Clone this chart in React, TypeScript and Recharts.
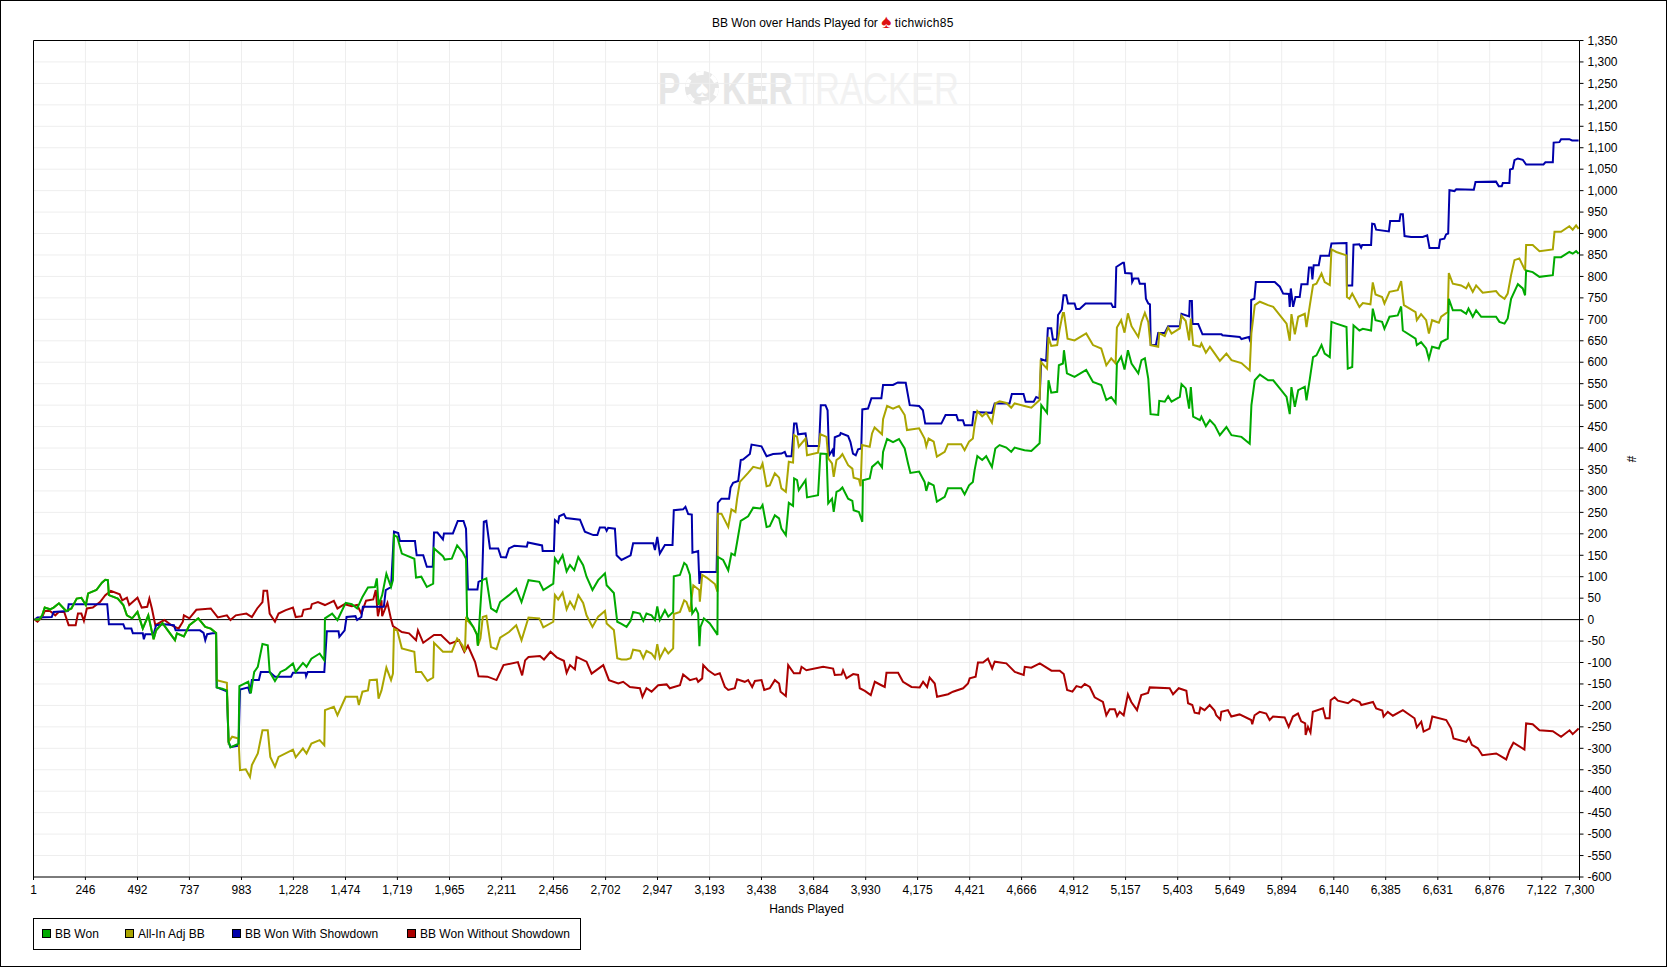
import React from 'react';
import { LineChart, Line, XAxis, YAxis, CartesianGrid, ReferenceLine, Legend } from 'recharts';

type P = [number, number];

const title = 'BB Won over Hands Played for';
const player = 'tichwich85';
const xTicks = [1,246,492,737,983,1228,1474,1719,1965,2211,2456,2702,2947,3193,3438,3684,3930,4175,4421,4666,4912,5157,5403,5649,5894,6140,6385,6631,6876,7122,7300];
const yTicks = [-600,-550,-500,-450,-400,-350,-300,-250,-200,-150,-100,-50,0,50,100,150,200,250,300,350,400,450,500,550,600,650,700,750,800,850,900,950,1000,1050,1100,1150,1200,1250,1300,1350];

const earlyShared: P[] = [[7,0],[28,0],[42,10],[54,28],[79,24],[96,28],[121,38],[155,20],[180,26],[205,49],[227,51],[248,34],[259,61],[298,69],[324,86],[340,93],[352,92],[357,57],[399,49],[425,34],[442,10],[467,3],[492,18],[517,-21],[543,10],[568,-46],[580,-25],[610,-8],[635,-25],[669,-48],[678,-32],[711,-39],[737,-13],[779,3],[812,-17],[838,-21],[863,-31]];

const bbWon: P[] = [...earlyShared,
[866,-158],[892,-161],[914,-165],[922,-285],[931,-298],[969,-289],[973,-155],[1015,-145],[1027,-172],[1043,-122],[1060,-110],[1082,-57],[1107,-60],[1116,-122],[1141,-143],[1167,-122],[1192,-116],[1226,-102],[1239,-122],[1273,-101],[1290,-110],[1313,-91],[1352,-79],[1374,-95],[1377,3],[1411,14],[1436,-1],[1475,39],[1504,36],[1529,26],[1554,53],[1580,75],[1613,76],[1622,96],[1630,34],[1647,57],[1667,107],[1689,76],[1698,92],[1703,197],[1718,193],[1740,154],[1799,142],[1807,98],[1832,100],[1858,76],[1888,84],[1892,166],[1934,148],[1942,140],[1976,142],[2001,173],[2026,158],[2043,142],[2048,6],[2077,-17],[2094,-34],[2099,-61],[2119,92],[2139,96],[2161,26],[2187,18],[2204,41],[2246,57],[2280,72],[2305,41],[2338,92],[2389,88],
[2408,69],[2455,84],[2463,143],[2478,132],[2499,150],[2518,112],[2534,127],[2554,115],[2573,146],[2596,127],[2612,100],[2640,69],[2667,92],[2699,108],[2707,80],[2741,62],[2757,-5],[2777,-10],[2801,-17],[2820,-3],[2832,18],[2864,14],[2880,-3],[2895,14],[2919,10],[2935,-1],[2946,31],[2958,-1],[2982,22],[2998,7],[3021,18],[3024,101],[3053,104],[3073,132],[3084,127],[3100,104],[3111,14],[3128,26],[3139,14],[3145,-62],[3150,-17],[3166,3],[3194,-9],[3226,-32],[3230,-36],[3232,146],[3257,139],[3281,115],[3296,154],[3312,150],[3323,181],[3340,230],[3375,241],[3399,261],[3433,259],[3443,267],[3462,216],[3477,218],[3501,243],[3521,236],[3532,212],[3553,197],[3567,272],[3587,265],[3592,329],[3606,325],[3614,302],[3646,325],[3653,285],[3705,290],[3716,387],[3745,386],[3753,271],[3771,282],[3779,251],[3792,298],[3808,302],
[3820,308],[3847,282],[3867,277],[3873,255],[3898,251],[3914,228],[3917,325],[3949,329],[3960,356],[3988,368],[4007,355],[4012,391],[4031,421],[4059,414],[4087,421],[4114,399],[4130,364],[4141,342],[4182,345],[4208,321],[4216,300],[4227,319],[4251,313],[4266,275],[4303,286],[4318,306],[4381,306],[4397,292],[4418,313],[4436,321],[4444,348],[4457,381],[4480,372],[4499,381],[4526,356],[4542,399],[4562,407],[4594,401],[4617,391],[4633,401],[4680,395],[4712,393],[4751,411],[4759,500],[4786,482],[4793,558],[4806,529],[4834,531],[4842,593],[4861,597],[4866,628],[4880,574],[4916,566],[4971,582],[5003,554],[5042,547],[5066,512],[5089,519],[5110,505],[5116,597],[5136,613],[5152,583],[5168,628],
[5185,597],[5217,574],[5232,605],[5248,609],[5264,562],[5275,479],[5311,477],[5316,510],[5342,508],[5358,521],[5374,508],[5413,519],[5421,549],[5441,539],[5457,492],[5465,542],[5476,473],[5508,465],[5515,473],[5536,451],[5555,465],[5578,453],[5602,430],[5633,449],[5657,430],[5704,426],[5743,410],[5751,500],[5767,558],[5791,571],[5830,558],[5854,558],[5885,539],[5917,519],[5932,479],[5940,542],[5956,496],[5972,535],[6003,543],[6011,511],[6027,562],[6042,612],[6058,616],[6082,640],[6097,620],[6121,612],[6129,694],[6152,690],[6200,682],
[6206,585],[6227,589],[6233,686],[6261,674],[6277,678],[6316,674],[6324,725],[6337,698],[6368,694],[6379,678],[6403,706],[6442,709],[6458,730],[6466,674],[6526,655],[6532,640],[6552,647],[6576,632],[6589,608],[6604,636],[6636,632],[6647,647],[6678,655],[6683,748],[6702,721],[6741,721],[6765,713],[6776,725],[6796,706],[6812,721],[6836,706],[6906,706],[6922,694],[6946,690],[6961,702],[6977,748],[7009,782],[7032,772],[7043,756],[7048,814],[7079,810],[7111,799],[7174,803],[7182,845],[7213,845],[7252,857],[7268,853],[7284,859],[7296,853]];

const allInAdj: P[] = [...earlyShared,
[866,-141],[914,-147],[922,-285],[939,-273],[969,-277],[976,-351],[1003,-349],[1023,-367],[1032,-339],[1060,-312],[1082,-258],[1107,-258],[1119,-320],[1141,-343],[1158,-320],[1226,-303],[1239,-321],[1273,-300],[1290,-312],[1313,-289],[1352,-281],[1374,-293],[1377,-211],[1419,-203],[1436,-223],[1475,-180],[1504,-180],[1529,-180],[1537,-199],[1554,-168],[1580,-165],[1588,-141],[1622,-140],[1630,-184],[1644,-165],[1667,-112],[1689,-141],[1698,-126],[1703,-22],[1718,-25],[1740,-67],[1799,-75],[1807,-122],[1832,-122],[1861,-143],[1888,-135],[1892,-54],[1934,-75],[1976,-75],[2001,-44],[2026,-60],[2038,-75],[2043,2],[2077,-17],[2094,-34],[2099,-61],[2111,-44],[2122,6],[2139,9],[2161,-64],[2187,-69],[2204,-42],[2246,-29],[2280,-13],[2305,-48],[2338,5],[2389,3],
[2408,-18],[2455,-5],[2463,57],[2478,47],[2499,63],[2518,24],[2534,42],[2554,26],[2573,57],[2596,39],[2612,10],[2640,-17],[2667,7],[2699,20],[2707,-9],[2741,-24],[2757,-90],[2777,-93],[2801,-93],[2820,-90],[2832,-70],[2864,-73],[2880,-90],[2895,-73],[2919,-79],[2935,-90],[2946,-57],[2958,-90],[2982,-67],[2998,-79],[3021,-67],[3024,13],[3053,18],[3073,45],[3084,41],[3100,18],[3116,80],[3144,69],[3147,42],[3158,104],[3179,98],[3218,83],[3230,65],[3232,247],[3249,247],[3281,216],[3296,257],[3315,251],[3323,282],[3336,321],[3375,342],[3399,356],[3433,352],[3443,364],[3462,311],[3477,313],[3501,341],[3521,331],[3532,306],[3553,298],[3567,368],[3587,366],[3592,430],[3606,426],[3614,403],[3646,422],[3653,383],[3705,389],[3716,432],[3745,426],[3753,376],[3771,364],[3779,333],[3792,372],[3808,378],
[3820,386],[3847,360],[3867,352],[3873,331],[3898,327],[3906,311],[3913,407],[3949,403],[3960,434],[3972,448],[4007,432],[4012,467],[4031,498],[4059,492],[4087,498],[4114,477],[4125,442],[4182,446],[4208,422],[4216,404],[4227,422],[4251,415],[4266,380],[4303,391],[4318,409],[4381,409],[4397,395],[4418,415],[4436,422],[4444,453],[4457,486],[4480,474],[4499,482],[4526,459],[4542,504],[4562,509],[4594,505],[4617,494],[4633,504],[4680,498],[4712,494],[4751,512],[4756,601],[4786,585],[4793,659],[4806,638],[4834,640],[4845,675],[4861,715],[4866,715],[4883,655],[4916,651],[4971,667],[5003,640],[5042,632],[5066,593],[5089,609],[5110,597],[5116,681],[5136,698],[5152,669],[5168,714],
[5185,684],[5217,659],[5232,694],[5248,715],[5264,694],[5275,640],[5311,636],[5316,668],[5342,661],[5358,681],[5374,667],[5413,679],[5421,708],[5441,696],[5457,651],[5465,702],[5476,640],[5508,636],[5515,644],[5536,622],[5555,636],[5578,620],[5602,603],[5633,620],[5657,605],[5704,598],[5743,581],[5751,668],[5767,733],[5791,741],[5830,733],[5854,729],[5885,710],[5917,690],[5932,650],[5940,712],[5956,665],[5972,706],[6003,713],[6011,682],[6027,733],[6042,780],[6058,783],[6082,807],[6097,787],[6121,780],[6129,863],[6152,857],[6200,849],
[6202,752],[6214,748],[6227,760],[6261,729],[6277,738],[6313,735],[6324,786],[6337,758],[6368,752],[6379,737],[6403,764],[6442,768],[6458,789],[6471,733],[6526,717],[6532,698],[6552,712],[6576,698],[6589,667],[6604,698],[6636,692],[6647,706],[6678,717],[6683,808],[6702,783],[6741,779],[6765,772],[6776,783],[6796,764],[6812,779],[6843,762],[6906,766],[6922,756],[6946,748],[6961,760],[6977,803],[6993,838],[7016,842],[7043,814],[7048,873],[7079,873],[7111,859],[7174,863],[7182,904],[7213,904],[7252,917],[7268,909],[7284,919],[7296,911]];

const withShowdown: P[] = [[7,0],[20,5],[87,6],[96,18],[163,20],[167,36],[349,36],[357,-11],[425,-11],[433,-21],[463,-21],[470,-32],[517,-32],[522,-46],[529,-34],[568,-34],[580,-13],[619,-11],[664,-13],[672,-25],[787,-25],[804,-31],[812,-48],[821,-34],[846,-32],[863,-32],[866,-158],[914,-167],[922,-285],[931,-297],[969,-294],[976,-163],[1015,-158],[1023,-172],[1032,-141],[1065,-141],[1074,-122],[1116,-122],[1141,-133],[1217,-133],[1226,-124],[1285,-124],[1288,-132],[1296,-122],[1374,-122],[1386,-27],[1441,-27],[1445,-40],[1470,-25],[1479,6],[1521,8],[1529,-1],[1549,6],[1556,30],[1655,30],[1664,69],[1689,76],[1703,205],[1723,202],[1731,183],[1802,183],[1810,150],[1841,150],[1858,123],[1886,123],[1892,203],[1908,203],[1934,187],[1939,201],[1981,201],[2004,230],[2031,230],[2043,212],[2052,70],[2097,70],[2102,88],[2119,92],[2127,228],[2139,230],[2156,166],[2195,166],[2208,146],[2232,145],[2246,166],[2271,172],[2330,170],[2335,180],[2402,173],
[2405,160],[2458,160],[2463,232],[2478,226],[2483,241],[2505,246],[2515,237],[2581,233],[2604,205],[2644,197],[2663,197],[2675,215],[2699,215],[2707,207],[2714,214],[2746,212],[2754,150],[2777,139],[2820,150],[2832,178],[2927,178],[2935,162],[2946,193],[2958,154],[2982,174],[3018,174],[3024,255],[3068,257],[3079,263],[3092,246],[3109,245],[3112,156],[3139,160],[3145,83],[3150,111],[3226,111],[3232,272],[3249,282],[3285,282],[3292,308],[3304,319],[3328,323],[3340,372],[3351,373],[3383,386],[3391,408],[3438,404],[3462,381],[3493,386],[3532,387],[3548,391],[3556,381],[3580,381],[3588,430],[3592,457],[3603,457],[3611,432],[3646,434],[3655,405],[3710,405],[3718,500],[3740,500],[3750,488],[3757,383],[3773,395],[3779,380],[3784,425],[3808,430],
[3812,435],[3847,428],[3858,414],[3870,387],[3883,383],[3894,397],[3909,399],[3914,490],[3941,492],[3957,516],[4004,516],[4012,547],[4059,547],[4082,553],[4119,552],[4138,500],[4182,498],[4200,488],[4211,457],[4287,457],[4307,477],[4358,477],[4366,465],[4389,465],[4397,453],[4433,453],[4440,484],[4526,482],[4539,504],[4609,504],[4620,526],[4675,526],[4685,508],[4723,508],[4735,519],[4751,515],[4759,607],[4782,603],[4790,679],[4806,679],[4814,653],[4833,653],[4838,710],[4856,723],[4864,756],[4877,756],[4885,737],[4916,737],[4924,724],[4940,724],[4968,737],[5089,737],[5097,729],[5108,729],[5113,822],[5144,832],
[5149,832],[5155,808],[5185,807],[5188,787],[5196,795],[5217,795],[5224,783],[5248,783],[5253,748],[5264,737],[5272,735],[5276,640],[5300,640],[5311,668],[5342,668],[5358,684],[5413,684],[5421,713],[5457,707],[5460,743],[5470,743],[5473,689],[5500,689],[5520,665],[5610,665],[5614,663],[5696,659],[5704,654],[5739,659],[5747,647],[5750,745],[5765,748],[5772,787],[5861,787],[5885,776],[5901,760],[5928,759],[5932,729],[5937,772],[5948,729],[5959,752],[5979,752],[5987,782],[6016,782],[6023,821],[6034,821],[6039,793],[6045,826],[6069,826],[6077,848],[6118,848],[6129,877],[6200,878],
[6202,779],[6227,779],[6233,874],[6261,875],[6269,867],[6274,873],[6316,873],[6321,923],[6332,922],[6340,909],[6400,905],[6406,929],[6450,929],[6455,945],[6466,945],[6474,894],[6505,892],[6560,892],[6581,896],[6592,866],[6636,866],[6642,886],[6662,888],[6670,898],[6680,900],[6686,1001],[6710,999],[6718,1003],[6801,1002],[6809,1020],[6906,1021],[6919,1010],[6933,1010],[6938,1018],[6969,1018],[6972,1049],[6985,1051],[6993,1071],[7009,1075],[7032,1072],[7048,1061],[7130,1061],[7139,1066],[7174,1066],[7178,1112],[7205,1113],[7213,1120],[7252,1120],[7265,1117],[7296,1117]];

const withoutShowdown: P[] = [[7,0],[20,-5],[42,6],[54,20],[79,20],[104,10],[121,18],[146,18],[167,-13],[200,-13],[211,14],[227,14],[239,-3],[253,26],[281,28],[315,41],[340,57],[366,67],[408,59],[420,45],[442,51],[453,34],[492,51],[512,28],[538,30],[548,49],[560,26],[576,-13],[619,-1],[652,-13],[686,-21],[706,-5],[711,10],[737,3],[770,23],[838,26],[871,5],[914,10],[931,-1],[956,10],[1006,14],[1032,6],[1057,26],[1082,41],[1087,67],[1104,67],[1116,14],[1141,-5],[1158,14],[1192,22],[1226,28],[1239,6],[1268,8],[1276,23],[1310,26],[1315,36],[1344,41],[1377,34],[1419,44],[1436,26],[1470,36],[1504,31],[1529,34],[1549,14],[1571,44],[1605,47],[1617,69],[1627,8],[1644,45],[1647,8],[1672,39],[1689,1],[1698,-15],[1740,-29],[1774,-32],[1807,-48],[1816,-25],[1841,-54],[1892,-36],[1925,-36],[1967,-56],[2010,-48],[2035,-75],[2052,-61],[2086,-99],[2102,-132],[2144,-133],[2187,-141],[2220,-106],[2288,-99],[2308,-130],[2322,-95],[2338,-87],
[2392,-85],[2411,-93],[2442,-75],[2471,-88],[2505,-96],[2518,-124],[2534,-106],[2557,-116],[2565,-87],[2612,-98],[2636,-126],[2691,-106],[2718,-141],[2762,-149],[2785,-145],[2817,-157],[2864,-160],[2876,-180],[2895,-160],[2919,-168],[2950,-153],[2990,-151],[3005,-160],[3053,-153],[3068,-128],[3100,-141],[3131,-137],[3139,-145],[3158,-137],[3163,-106],[3186,-118],[3218,-129],[3241,-125],[3265,-157],[3281,-164],[3312,-160],[3323,-139],[3359,-145],[3375,-141],[3394,-157],[3407,-143],[3438,-141],[3451,-164],[3477,-160],[3501,-141],[3521,-149],[3528,-168],[3553,-178],[3564,-106],[3591,-125],[3619,-125],[3627,-110],[3650,-118],[3729,-110],[3776,-114],[3784,-129],[3816,-128],[3823,-118],[3839,-137],[3871,-127],[3894,-129],[3902,-160],[3926,-166],[3954,-176],[3973,-145],[4004,-153],[4020,-157],[4028,-124],[4083,-124],[4106,-145],[4146,-157],[4185,-158],[4201,-145],[4220,-157],[4232,-135],[4256,-149],[4267,-180],[4319,-174],[4342,-168],[4390,-160],[4413,-149],[4421,-137],[4449,-133],[4460,-100],[4484,-100],[4507,-91],[4527,-114],[4539,-98],[4594,-102],[4634,-122],[4676,-129],[4681,-110],[4712,-112],[4752,-102],[4807,-119],[4846,-119],
[4865,-127],[4881,-164],[4906,-168],[4925,-155],[4948,-158],[4964,-150],[4988,-157],[5011,-181],[5050,-192],[5066,-223],[5082,-209],[5106,-209],[5117,-225],[5129,-215],[5148,-223],[5168,-174],[5184,-192],[5211,-211],[5231,-176],[5263,-171],[5271,-158],[5365,-160],[5381,-174],[5408,-160],[5444,-166],[5452,-195],[5472,-199],[5483,-217],[5504,-219],[5510,-205],[5530,-211],[5554,-199],[5577,-212],[5585,-223],[5604,-233],[5609,-215],[5640,-211],[5656,-226],[5695,-221],[5750,-234],[5755,-244],[5766,-223],[5790,-215],[5821,-219],[5837,-234],[5853,-226],[5908,-228],[5927,-250],[5947,-226],[5971,-219],[5986,-237],[6005,-242],[6007,-269],[6018,-250],[6030,-263],[6041,-215],[6089,-207],[6101,-230],[6120,-230],[6125,-188],[6144,-181],[6159,-189],[6207,-195],[6230,-186],[6262,-192],[6270,-199],[6325,-192],[6340,-207],[6369,-212],[6375,-226],[6395,-215],[6419,-224],[6466,-211],[6521,-230],[6532,-251],[6553,-238],[6564,-261],[6592,-254],[6605,-226],[6671,-234],[6694,-254],[6705,-277],[6765,-285],[6778,-275],[6792,-292],[6820,-300],[6841,-316],[6907,-312],[6954,-326],[6970,-304],[6988,-287],[7040,-303],[7048,-242],[7079,-244],[7111,-258],[7174,-260],[7213,-273],[7253,-258],[7268,-267],[7296,-254]];

const seriesLabels = ['BB Won', 'All-In Adj BB', 'BB Won With Showdown', 'BB Won Without Showdown'];
const seriesColors = ['#00aa00', '#aaa500', '#0000aa', '#aa0000'];

const toRows = (pts: P[]) => pts.map(([x, y]) => ({ x, y }));
const fmt = (v: number) => v.toLocaleString('en-US');
const FONT = '"Liberation Sans", Arial, sans-serif';

const LegendBox = () => (
  <div style={{ boxSizing: 'border-box', width: 548, height: 32, border: '1px solid #000', background: '#fff', position: 'relative', fontFamily: FONT, fontSize: 12, color: '#000' }}>
    {seriesLabels.map((label, i) => {
      const swatch = [8, 91, 198, 373][i];
      return (
        <React.Fragment key={label}>
          <span style={{ position: 'absolute', left: swatch, top: 10, width: 7, height: 7, background: seriesColors[i], border: '1px solid #000' }} />
          <span style={{ position: 'absolute', left: swatch + 13, top: 8, whiteSpace: 'nowrap' }}>{label}</span>
        </React.Fragment>
      );
    })}
  </div>
);

const HashLabel = () => (
  <text x={1631} y={459} transform="rotate(90 1631 459)" textAnchor="middle" dominantBaseline="central" fontFamily={FONT} fontSize={12} fill="#000">#</text>
);

export default function App() {
  return (
    <div style={{ position: 'absolute', left: 0, top: 0, width: 1667, height: 967, background: '#fff', overflow: 'hidden' }}>
      <svg width={1667} height={967} style={{ position: 'absolute', left: 0, top: 0 }}>
        <text transform="translate(658 104) scale(0.76 1)" fontFamily={FONT} fontWeight={700} fontSize={44} fill="#e6e6e6">P</text>
        <circle cx={702} cy={88} r={17} fill="#e6e6e6" />
        <circle cx={702} cy={88} r={15} fill="none" stroke="#fff" strokeWidth={4} strokeDasharray="8 8" />
        <text x={702} y={97} textAnchor="middle" fontFamily={FONT} fontSize={24} fill="#fff">♠</text>
        <text transform="translate(722 104) scale(0.76 1)" fontFamily={FONT} fontWeight={700} fontSize={44} fill="#e6e6e6">KER</text>
        <text transform="translate(794 104) scale(0.785 1)" fontFamily={FONT} fontSize={44} fill="#f2f2f2">TRACKER</text>
      </svg>
      <div style={{ position: 'absolute', left: 0, top: 0 }}>
        <LineChart width={1667} height={967} margin={{ top: 40.5, right: 0, bottom: 0, left: 33.5 }}>
          <CartesianGrid stroke="#eeeeee" strokeWidth={1} horizontalValues={yTicks} verticalValues={xTicks} />
          <XAxis
            dataKey="x"
            type="number"
            domain={[1, 7300]}
            ticks={xTicks}
            interval={0}
            height={90}
            allowDataOverflow
            tickFormatter={fmt}
            stroke="#000"
            tickSize={3}
            tickMargin={5}
            tick={{ fill: '#000', fontSize: 12, fontFamily: FONT }}
            label={{ value: 'Hands Played', position: 'insideTop', offset: 27, fill: '#000', fontSize: 12, fontFamily: FONT }}
          />
          <YAxis
            orientation="right"
            type="number"
            domain={[-600, 1350]}
            ticks={yTicks}
            interval={0}
            width={87.5}
            allowDataOverflow
            tickFormatter={fmt}
            stroke="#000"
            tickSize={4}
            tickMargin={4}
            tick={{ fill: '#000', fontSize: 12, fontFamily: FONT }}
            label={{ content: () => <HashLabel /> }}
          />
          <ReferenceLine y={0} stroke="#000" strokeWidth={1} />
          <ReferenceLine y={1350} stroke="#000" strokeWidth={1} />
          <ReferenceLine x={1} stroke="#000" strokeWidth={1} />
          <Line data={toRows(withoutShowdown)} dataKey="y" name={seriesLabels[3]} stroke={seriesColors[3]} strokeWidth={2} dot={false} isAnimationActive={false} />
          <Line data={toRows(withShowdown)} dataKey="y" name={seriesLabels[2]} stroke={seriesColors[2]} strokeWidth={2} dot={false} isAnimationActive={false} />
          <Line data={toRows(allInAdj)} dataKey="y" name={seriesLabels[1]} stroke={seriesColors[1]} strokeWidth={2} dot={false} isAnimationActive={false} />
          <Line data={toRows(bbWon)} dataKey="y" name={seriesLabels[0]} stroke={seriesColors[0]} strokeWidth={2} dot={false} isAnimationActive={false} />
          <Legend layout="horizontal" verticalAlign="middle" align="center" wrapperStyle={{ left: 33, top: 918, width: 548, height: 32, margin: 0 }} content={() => <LegendBox />} />
        </LineChart>
      </div>
      <div style={{ position: 'absolute', left: 712, top: 16, whiteSpace: 'nowrap', fontFamily: FONT, fontSize: 12, color: '#000' }}>
        {title} <span style={{ color: '#dd1111', fontSize: 19, lineHeight: '12px', verticalAlign: -1 }}>♠</span> <span style={{ letterSpacing: 0.3 }}>{player}</span>
      </div>
      <div style={{ position: 'absolute', left: 0, top: 0, width: 1667, height: 967, boxSizing: 'border-box', border: '1px solid #000', pointerEvents: 'none' }} />
    </div>
  );
}
